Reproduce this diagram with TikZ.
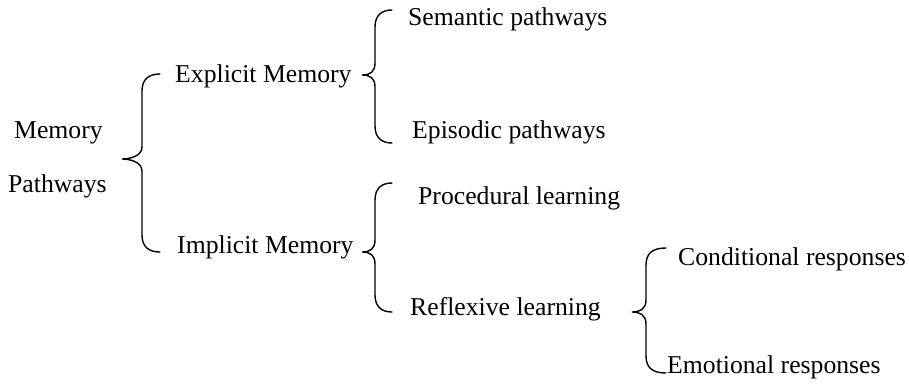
\documentclass[tikz,border=0pt]{standalone}
\usepackage{fontspec}
\setmainfont{Liberation Serif}
\newcommand{\curlybrace}[6]{% xv, xe, xt, ytop, ymid, ybot
  \draw[bracestyle] (#2,#4) .. controls (#1+7,#4) and (#1,#4+5) .. (#1,#4+17)
    -- (#1,#5-12) .. controls (#1,#5-3) and (#3+8,#5) .. (#3,#5)
    .. controls (#3+8,#5) and (#1,#5+3) .. (#1,#5+12)
    -- (#1,#6-17) .. controls (#1,#6-5) and (#1+7,#6) .. (#2,#6);}
\begin{document}
\begin{tikzpicture}[x=1pt,y=-1pt,
  lbl/.style={anchor=base west,inner sep=0pt,font=\fontsize{25.7}{30}\selectfont},
  bracestyle/.style={line width=1.4pt,line cap=round}]
\useasboundingbox (0,0) rectangle (909,385);
\node[lbl] (mem) at (14,139) {Memory};
\node[lbl] (path) at (8,192) {Pathways};
\node[lbl] (expl) at (175,83) {Explicit Memory};
\node[lbl] (impl) at (177,253) {Implicit Memory};
\node[lbl] (sem) at (408,26) {Semantic pathways};
\node[lbl] (epi) at (412,139) {Episodic pathways};
\node[lbl] (proc) at (418,204) {Procedural learning};
\node[lbl] (refl) at (410,315) {Reflexive learning};
\node[lbl] (cond) at (678,265) {Conditional responses};
\node[lbl] (emo) at (667,373) {Emotional responses};
\curlybrace{142}{160}{122}{74}{159}{252}
\curlybrace{375}{392}{362}{10}{75}{143}
\curlybrace{375}{392}{362}{183}{252}{312}
\curlybrace{646}{666}{632}{248}{312}{373}
\end{tikzpicture}
\end{document}
